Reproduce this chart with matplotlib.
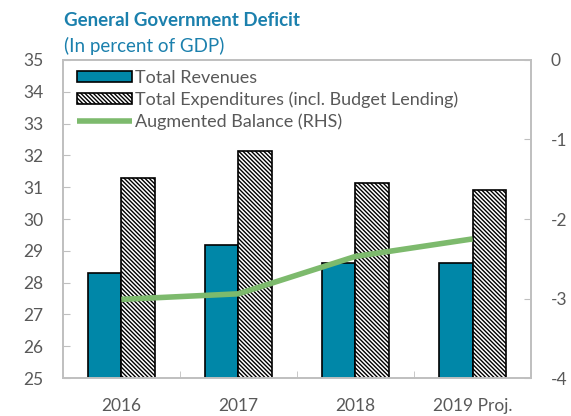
import matplotlib

matplotlib.use("Agg")
import matplotlib.pyplot as plt
import numpy as np

# Data
years = ["2016", "2017", "2018", "2019 Proj."]
revenues = [28.3, 29.18, 28.63, 28.63]
expenditures = [31.3, 32.15, 31.13, 30.9]
augmented_balance = [-3.01, -2.94, -2.47, -2.25]

left_ticks = list(range(25, 36))
right_ticks = [-4, -3, -2, -1, 0]

TEAL = "#0087a8"
GREEN = "#7dba6d"
GRAY = "#595959"
FRAME = "#bfbfbf"
TITLE = "#1b80ad"

plt.rcParams["font.family"] = ["Lato", "DejaVu Sans"]
plt.rcParams["hatch.linewidth"] = 1.0
plt.rcParams["axes.unicode_minus"] = False

fig = plt.figure(figsize=(5.71, 4.16), dpi=100)
ax = fig.add_axes([0.110, 0.091, 0.820, 0.765])
ax2 = ax.twinx()

x = np.arange(len(years))
w = 0.285
b1 = ax.bar(x - w / 2, revenues, w, color=TEAL, edgecolor="black",
            linewidth=1.2, label="Total Revenues", zorder=2)
b2 = ax.bar(x + w / 2, expenditures, w, color="white", edgecolor="black",
            hatch="\\" * 8, linewidth=1.2,
            label="Total Expenditures (incl. Budget Lending)", zorder=2)
ln, = ax2.plot(x, augmented_balance, color=GREEN, linewidth=4,
               label="Augmented Balance (RHS)", solid_capstyle="butt")

ax.set_xlim(-0.5, len(years) - 0.5)
ax.set_ylim(25, 35)
ax.set_yticks(left_ticks)
ax2.set_ylim(-4, 0)
ax2.set_yticks(right_ticks)

ax.set_xticks(x)
ax.set_xticklabels(years)
ax.set_xticks(np.arange(-0.5, len(years)), minor=True)
ax.tick_params(axis="x", which="major", length=0, pad=14, labelsize=12.5,
               colors=GRAY)
ax.tick_params(axis="x", which="minor", direction="in", length=5,
               color=FRAME)
ax.tick_params(axis="y", direction="in", length=5, color=FRAME,
               labelcolor=GRAY, labelsize=12.5, pad=14)
ax2.tick_params(axis="y", direction="in", length=5, color=FRAME,
                labelcolor=GRAY, labelsize=12.5, pad=14)

for a in (ax, ax2):
    for s in a.spines.values():
        s.set_color(FRAME)
        s.set_linewidth(1.2)

fig.text(0.112, 0.938, "General Government Deficit", color=TITLE,
         fontsize=13.5, fontweight="bold", va="baseline")
fig.text(0.112, 0.876, "(In percent of GDP)", color=TITLE,
         fontsize=13.5, va="baseline")

leg = ax.legend([b1, b2, ln], [b1.get_label(), b2.get_label(), ln.get_label()],
                loc="upper left", bbox_to_anchor=(0.01, 1.0), frameon=False,
                fontsize=13, handlelength=3.0, handleheight=0.6,
                handletextpad=0.2, labelspacing=0.3, borderaxespad=0.15)
for t in leg.get_texts():
    t.set_color(GRAY)

fig.savefig("out.png", dpi=100)
